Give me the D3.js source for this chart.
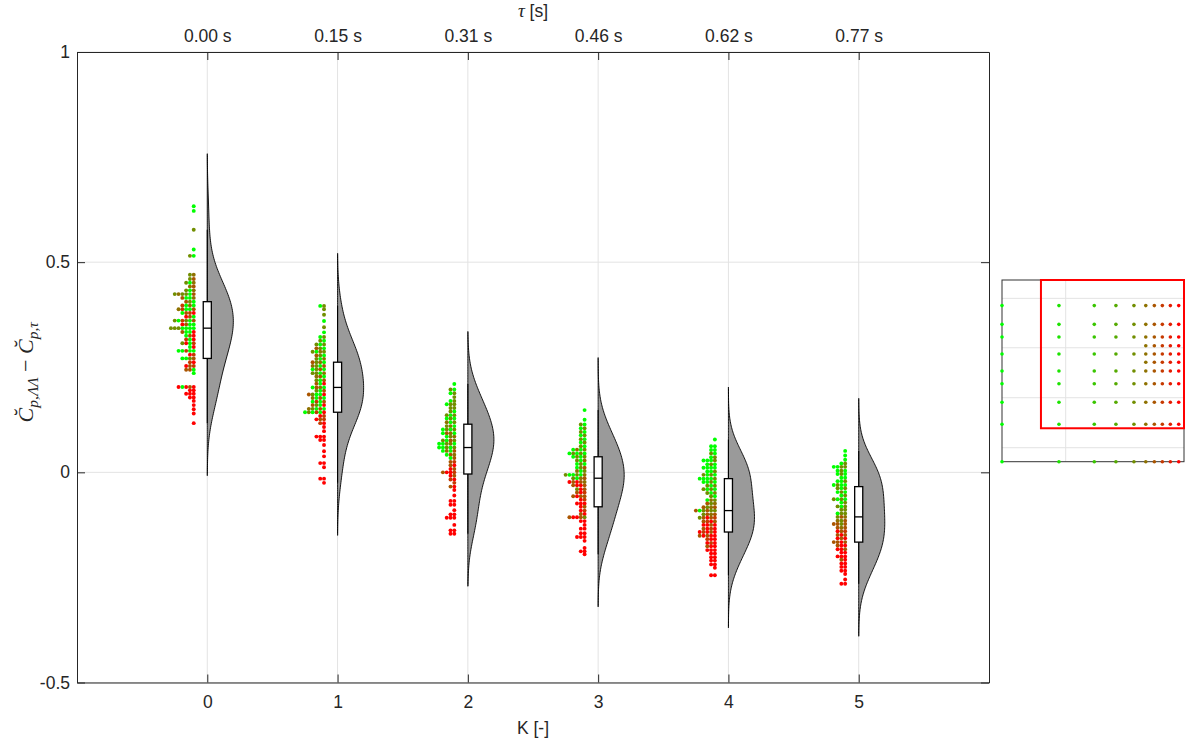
<!DOCTYPE html>
<html>
<head>
<meta charset="utf-8">
<script src="https://cdn.jsdelivr.net/npm/d3@7"></script>
<style>
  body { margin: 0; background: #fff; }
  svg { display: block; }
</style>
</head>
<body>
<svg id="chart" width="1191" height="744"></svg>
<script>
// ---- data ---------------------------------------------------------------
const kValues = [0, 1, 2, 3, 4, 5];
const tauLabels = ["0.00 s", "0.15 s", "0.31 s", "0.46 s", "0.62 s", "0.77 s"];
const yTickValues = [-0.5, 0, 0.5, 1];
const yTickLabels = ["-0.5", "0", "0.5", "1"];

// Dot rows per K: [value, shade of each dot from the inner column outwards]
// shade 0 = green ... 9 = red
const dotRowsK0 = [
  [0.633, [0]], [0.622, [0]], [0.577, [4]], [0.530, [0]], [0.515, [0, 4]],
  [0.470, [5, 4]], [0.460, [6, 4]], [0.451, [5, 0, 4]], [0.442, [6, 5]],
  [0.433, [5, 0, 4]], [0.424, [6, 0, 4, 4, 5, 4]], [0.415, [5, 0, 0, 6]],
  [0.406, [0, 4, 6]], [0.397, [0, 5, 0, 7]], [0.388, [6, 0, 0, 7, 5]],
  [0.379, [9, 7, 6, 0]], [0.370, [0, 6, 9]], [0.361, [6, 0, 4, 7, 0, 4]],
  [0.352, [0, 0, 6, 9]], [0.343, [0, 0, 0, 0, 4, 4, 4]], [0.334, [9, 0, 0, 6]],
  [0.325, [9, 6, 0]], [0.316, [9, 0, 7]], [0.307, [7, 0, 9, 4]], [0.298, [9, 0]],
  [0.289, [0, 0, 7, 0, 0]], [0.280, [7, 9]], [0.271, [6, 4, 0, 0]], [0.262, [9, 7]],
  [0.253, [7, 6, 9]], [0.244, [0, 6, 6]], [0.236, [0]],
  [0.203, [9, 6, 9, 0, 9]], [0.195, [9, 9]], [0.187, [9, 9, 9]], [0.178, [9, 9]],
  [0.170, [9]], [0.160, [9]], [0.150, [9]], [0.140, [9]], [0.117, [9]]
];
const dotRowsK1 = [
  [0.396, [4, 0]], [0.388, [4]], [0.375, [4]], [0.360, [0]], [0.345, [4]],
  [0.333, [0]], [0.322, [4, 0]], [0.313, [0, 4]], [0.304, [4, 0, 4]],
  [0.295, [0, 4, 6]], [0.287, [4, 5, 0, 4]], [0.278, [0, 4, 6]], [0.270, [5, 0, 4]],
  [0.262, [0, 5, 4, 6]], [0.253, [6, 0, 4, 5]], [0.245, [0, 6, 4, 0]],
  [0.236, [5, 0, 4, 4]], [0.228, [0, 6, 5]], [0.219, [6, 0, 4]], [0.211, [9, 0, 6]],
  [0.202, [0, 5, 6, 0]], [0.194, [6, 0, 4]], [0.185, [9, 0, 0, 4, 6]],
  [0.177, [0, 6, 0, 5]], [0.168, [6, 0, 7, 0]], [0.160, [9, 0, 4, 6]],
  [0.151, [0, 6, 0, 4, 5]], [0.143, [9, 0, 7, 0, 4, 0]], [0.134, [7, 9]],
  [0.126, [7, 6, 9]], [0.117, [9, 7]], [0.108, [9]], [0.098, [9]],
  [0.085, [9, 9, 9]], [0.077, [9, 9]], [0.065, [9]], [0.050, [9]], [0.038, [9]],
  [0.022, [9, 9]], [0.012, [9]], [-0.015, [9, 9]], [-0.025, [9]]
];
const dotRowsK2 = [
  [0.210, [0]], [0.197, [0, 4]], [0.188, [4, 0]], [0.179, [4]], [0.170, [4, 0]],
  [0.162, [4, 4, 0]], [0.153, [4, 4]], [0.145, [0, 4]], [0.136, [4, 0, 4]],
  [0.128, [0, 4, 0]], [0.119, [4, 0, 5]], [0.110, [0, 5, 4]], [0.102, [4, 0, 4, 0]],
  [0.093, [0, 5, 6, 0]], [0.085, [5, 4, 0]], [0.076, [4, 6, 0, 4]],
  [0.068, [0, 5, 4, 0, 0]], [0.059, [4, 0, 4, 0, 0]], [0.051, [6, 0, 5, 0]],
  [0.042, [5, 6, 0]], [0.034, [6, 0]], [0.025, [7, 6]], [0.017, [9, 6]],
  [0.008, [6, 9]], [0.000, [7, 9, 9, 6]], [-0.008, [6, 9]], [-0.017, [9, 7]],
  [-0.025, [7]], [-0.034, [9, 6]], [-0.042, [9]], [-0.055, [9]], [-0.068, [9, 9]],
  [-0.077, [9, 9]], [-0.090, [9]], [-0.100, [9, 9]], [-0.108, [9, 9, 9]],
  [-0.125, [9]], [-0.138, [9, 9]], [-0.146, [9, 9]]
];
const dotRowsK3 = [
  [0.148, [0]], [0.125, [0]], [0.114, [0, 4]], [0.105, [4, 0]], [0.096, [0, 4]],
  [0.088, [4, 0]], [0.079, [0, 4]], [0.071, [4, 0]], [0.062, [0, 4]],
  [0.054, [4, 0, 5, 0]], [0.045, [0, 4, 0, 4, 0]], [0.037, [4, 0, 4, 0]],
  [0.028, [5, 0, 4]], [0.020, [0, 4, 0]], [0.011, [6, 4, 0]], [0.003, [4, 0, 5]],
  [-0.006, [5, 0, 4, 0, 0, 4]], [-0.014, [6, 5, 0, 4]], [-0.023, [5, 6, 9, 6, 9]],
  [-0.031, [6, 9, 9, 6]], [-0.040, [6, 9, 4]], [-0.048, [7, 9, 6]],
  [-0.057, [6, 6, 9, 6]], [-0.065, [7, 9]], [-0.074, [9, 9, 9]], [-0.082, [6, 9]],
  [-0.091, [7, 9]], [-0.099, [9, 6]], [-0.107, [4, 6, 9, 9, 6]], [-0.116, [9, 9]],
  [-0.125, [9]], [-0.134, [9, 9]], [-0.145, [9, 9]], [-0.154, [9, 9, 9]],
  [-0.163, [9]], [-0.180, [9]], [-0.188, [9, 9]], [-0.195, [9]]
];
const dotRowsK4 = [
  [0.078, [0]], [0.062, [0, 0]], [0.053, [0, 0]], [0.045, [0, 4]], [0.036, [4, 0]],
  [0.028, [4, 0, 0, 0]], [0.019, [0, 4, 0]], [0.011, [0, 0, 0, 0]], [0.002, [4, 0, 0]],
  [-0.006, [0, 4, 0, 4]], [-0.015, [4, 0, 0, 0, 0]], [-0.023, [0, 4, 0, 0]],
  [-0.032, [4, 0, 4]], [-0.040, [0, 4, 0, 4]], [-0.049, [4, 0, 4]], [-0.057, [0, 4]],
  [-0.066, [4, 5, 0]], [-0.074, [5, 4, 6]], [-0.083, [6, 5, 4, 6]],
  [-0.091, [4, 4, 6, 4, 0, 6]], [-0.100, [6, 5, 6, 4]], [-0.108, [7, 6, 9, 6, 4]],
  [-0.117, [6, 9, 7, 6]], [-0.125, [9, 6, 9, 9]], [-0.134, [9, 7, 9, 6]],
  [-0.142, [9, 6, 9, 7, 9]], [-0.151, [9, 9, 6, 9, 6]], [-0.159, [9, 9, 7]],
  [-0.168, [9, 7, 9]], [-0.176, [9, 9, 6]], [-0.185, [9, 9, 9]], [-0.193, [9, 9]],
  [-0.202, [9, 9]], [-0.210, [9, 9]], [-0.219, [9, 9]], [-0.227, [9]], [-0.245, [9, 9]]
];
const dotRowsK5 = [
  [0.051, [0]], [0.040, [0]], [0.030, [0]], [0.021, [4, 0]], [0.013, [4, 4, 0, 0]],
  [0.004, [0, 4, 0]], [-0.004, [0, 4, 0]], [-0.013, [0, 0]], [-0.021, [4, 0, 0]],
  [-0.030, [0, 0, 4, 0]], [-0.038, [4, 0, 4]], [-0.047, [0, 4, 0]], [-0.055, [4, 0]],
  [-0.064, [0, 4, 0, 4]], [-0.072, [4, 0]], [-0.081, [4, 0, 4]], [-0.089, [4, 4]],
  [-0.098, [4, 4, 0]], [-0.106, [5, 6, 4]], [-0.115, [6, 4, 5]], [-0.123, [6, 4, 6, 6]],
  [-0.132, [6, 5, 6]], [-0.140, [7, 6, 9]], [-0.149, [6, 9, 6]], [-0.157, [9, 6, 9]],
  [-0.166, [6, 9, 6, 6]], [-0.174, [9, 9, 6]], [-0.183, [6, 9, 9]], [-0.191, [9, 9]],
  [-0.200, [9, 9, 9]], [-0.208, [9, 6]], [-0.217, [9, 9]], [-0.225, [9, 9]],
  [-0.234, [9, 9]], [-0.242, [9]], [-0.255, [9]], [-0.265, [9, 9]]
];
const dotRowsByK = [dotRowsK0, dotRowsK1, dotRowsK2, dotRowsK3, dotRowsK4, dotRowsK5];

// Parameter-grid overview (normalised coordinates)
const gridColumnX = [0, 0.313, 0.507, 0.626, 0.725, 0.790, 0.837, 0.881, 0.925, 0.971];
const gridRowY = [0, 0.206, 0.327, 0.429, 0.499, 0.593, 0.686, 0.756, 0.859];
const gridExtraRowY = [0.547, 0.638];   // only present for the finer columns
const gridExtraFromColumn = 5;
const gridTickY = [0.077, 0.352, 0.627, 0.899];
const gridTickX = [0.35];
const selection = { x0: 0.214, x1: 1, y0: 0.184, y1: 1 };

// ---- drawing --------------------------------------------------------------
const svg = d3.select("#chart");
const axisColor = "#262626";
const gridColor = "#e3e3e3";
const sansFont = "'Liberation Sans', Arial, Helvetica, sans-serif";
const serifFont = "'Liberation Serif', 'DejaVu Serif', serif";

const x = d3.scaleLinear().domain([-1, 6]).range([77, 989]);
const y = d3.scaleLinear().domain([-0.5, 1]).range([682.5, 52]);
const shade = s => d3.rgb(255 * s / 9, 255 * (1 - s / 9), 0).toString();

// grid
const grid = svg.append("g");
grid.selectAll(".gv").data(kValues).join("line")
  .attr("x1", d => x(d)).attr("x2", d => x(d))
  .attr("y1", y.range()[1]).attr("y2", y.range()[0])
  .attr("stroke", gridColor).attr("stroke-width", 1);
grid.selectAll(".gh").data(yTickValues).join("line")
  .attr("x1", x.range()[0]).attr("x2", x.range()[1])
  .attr("y1", d => y(d)).attr("y2", d => y(d))
  .attr("stroke", gridColor).attr("stroke-width", 1);

const violinHalfWidth = 0.2;    // in K units
const violinReach = 0.125;      // density drawn this far past the extreme values
const boxHalfWidth = 0.031;
const dotOffset = 0.104;
const dotStep = 3.8;            // px between stacked dots

function gaussianKde(values, bw, at) {
  const c = 1 / Math.sqrt(2 * Math.PI);
  return at.map(t => d3.mean(values, v => c * Math.exp(-0.5 * ((t - v) / bw) ** 2)) / bw);
}

const plot = svg.append("g");
kValues.forEach((k, i) => {
  const rows = dotRowsByK[i];
  const values = rows.flatMap(([v, shades]) => shades.map(() => v)).sort(d3.ascending);
  const n = values.length;
  const sd = d3.deviation(values);
  const bw = 1.4 * sd * Math.pow(n, -0.2);
  const lo = d3.min(values) - violinReach, hi = d3.max(values) + violinReach;
  const at = d3.range(0, 161).map(j => lo + (hi - lo) * j / 160);
  const dens = gaussianKde(values, bw, at);
  const dMax = d3.max(dens);
  const cx = x(k);
  const pxPerUnit = x(1) - x(0);
  const pts = at.map((t, j) => [t, dens[j] / dMax * violinHalfWidth]);

  const area = d3.area()
    .y(d => y(d[0]))
    .x0(() => cx)
    .x1(d => cx + d[1] * pxPerUnit)
    .curve(d3.curveBasis);
  plot.append("path").datum(pts).attr("d", area)
    .attr("fill", "#9a9a9a").attr("stroke", "#000").attr("stroke-width", 0.9);

  // whisker line
  const q1 = d3.quantileSorted(values, 0.25), med = d3.quantileSorted(values, 0.5), q3 = d3.quantileSorted(values, 0.75);
  const iqr = q3 - q1;
  const wLo = d3.min(values.filter(v => v >= q1 - 1.5 * iqr));
  const wHi = d3.max(values.filter(v => v <= q3 + 1.5 * iqr));
  plot.append("line").attr("x1", cx).attr("x2", cx).attr("y1", y(wHi)).attr("y2", y(wLo))
    .attr("stroke", "#000").attr("stroke-width", 1.1);

  // box
  plot.append("rect")
    .attr("x", x(k - boxHalfWidth)).attr("width", x(k + boxHalfWidth) - x(k - boxHalfWidth))
    .attr("y", y(q3)).attr("height", y(q1) - y(q3))
    .attr("fill", "#fff").attr("stroke", "#000").attr("stroke-width", 1.3);
  plot.append("line")
    .attr("x1", x(k - boxHalfWidth)).attr("x2", x(k + boxHalfWidth))
    .attr("y1", y(med)).attr("y2", y(med))
    .attr("stroke", "#000").attr("stroke-width", 1.3);

  // stacked dots
  const dots = rows.flatMap(([v, shades]) => shades.map((s, j) => ({ v, s, j })));
  plot.append("g").selectAll("circle").data(dots).join("circle")
    .attr("cx", d => x(k - dotOffset) - d.j * dotStep)
    .attr("cy", d => y(d.v))
    .attr("r", 1.95)
    .attr("fill", d => shade(d.s));
});

// axes
const axes = svg.append("g").attr("font-family", sansFont);
const axisBottomG = axes.append("g").attr("transform", `translate(0,${y(-0.5)})`)
  .call(d3.axisBottom(x).tickValues(kValues).tickFormat(d3.format("d")).tickSize(-8).tickPadding(13.5).tickSizeOuter(0));
const axisTopG = axes.append("g").attr("transform", `translate(0,${y(1)})`)
  .call(d3.axisTop(x).tickValues(kValues).tickFormat((d, i) => tauLabels[i]).tickSize(-8).tickPadding(10).tickSizeOuter(0));
const axisLeftG = axes.append("g").attr("transform", `translate(${x(-1)},0)`)
  .call(d3.axisLeft(y).tickValues(yTickValues).tickFormat((d, i) => yTickLabels[i]).tickSize(-8).tickPadding(7).tickSizeOuter(0));
const axisRightG = axes.append("g").attr("transform", `translate(${x(6)},0)`)
  .call(d3.axisRight(y).tickValues(yTickValues).tickFormat("").tickSize(-8).tickSizeOuter(0));
[axisBottomG, axisTopG, axisLeftG, axisRightG].forEach(g => {
  g.selectAll(".domain").attr("stroke", axisColor).attr("stroke-width", 1);
  g.selectAll(".tick line").attr("stroke", axisColor).attr("stroke-width", 1);
  g.selectAll(".tick text").attr("fill", axisColor).attr("font-size", 17.5).attr("font-family", sansFont);
});

// axis titles
axes.append("text").attr("x", x(2.5)).attr("y", 734).attr("text-anchor", "middle")
  .attr("font-size", 17.5).attr("fill", axisColor).text("K [-]");
const tauTitle = axes.append("text").attr("x", x(2.5)).attr("y", 17).attr("text-anchor", "middle")
  .attr("font-size", 17.5).attr("fill", axisColor);
tauTitle.append("tspan").attr("font-family", serifFont).attr("font-style", "italic").attr("font-size", 19).text("τ");
tauTitle.append("tspan").text(" [s]");

const yTitle = svg.append("text")
  .attr("transform", `translate(33,${(y(1) + y(-0.5)) / 2 + 5}) rotate(-90)`)
  .attr("text-anchor", "middle").attr("font-family", serifFont).attr("fill", axisColor);
yTitle.append("tspan").attr("font-style", "italic").attr("font-size", 22).text("C\u0306");
yTitle.append("tspan").attr("font-style", "italic").attr("font-size", 15.5).attr("dy", 5).text("p,ΛΛ");
yTitle.append("tspan").attr("font-size", 22).attr("dy", -5).text(" − ");
yTitle.append("tspan").attr("font-style", "italic").attr("font-size", 22).text("C\u0306");
yTitle.append("tspan").attr("font-style", "italic").attr("font-size", 15.5).attr("dy", 5).text("p,τ");

// parameter-grid overview
const gx = d3.scaleLinear().domain([0, 1]).range([1002, 1184]);
const gy = d3.scaleLinear().domain([0, 1]).range([461.7, 280]);
const inset = svg.append("g");
inset.selectAll(".igh").data(gridTickY).join("line")
  .attr("x1", gx(0)).attr("x2", gx(1)).attr("y1", d => gy(d)).attr("y2", d => gy(d))
  .attr("stroke", gridColor);
inset.selectAll(".igv").data(gridTickX).join("line")
  .attr("x1", d => gx(d)).attr("x2", d => gx(d)).attr("y1", gy(0)).attr("y2", gy(1))
  .attr("stroke", gridColor);
inset.append("rect").attr("x", gx(0)).attr("y", gy(1))
  .attr("width", gx(1) - gx(0)).attr("height", gy(0) - gy(1))
  .attr("fill", "none").attr("stroke", "#333").attr("stroke-width", 1);
const gridPoints = [];
gridColumnX.forEach((cxv, ci) => {
  gridRowY.forEach(ry => gridPoints.push({ x: cxv, y: ry, c: ci }));
  if (ci >= gridExtraFromColumn) gridExtraRowY.forEach(ry => gridPoints.push({ x: cxv, y: ry, c: ci }));
});
inset.selectAll("circle").data(gridPoints).join("circle")
  .attr("cx", d => gx(d.x)).attr("cy", d => gy(d.y)).attr("r", 1.8)
  .attr("fill", d => shade(d.c));
inset.append("rect")
  .attr("x", gx(selection.x0)).attr("y", gy(selection.y1))
  .attr("width", gx(selection.x1) - gx(selection.x0)).attr("height", gy(selection.y0) - gy(selection.y1))
  .attr("fill", "none").attr("stroke", "#ff0000").attr("stroke-width", 2);
</script>
</body>
</html>
